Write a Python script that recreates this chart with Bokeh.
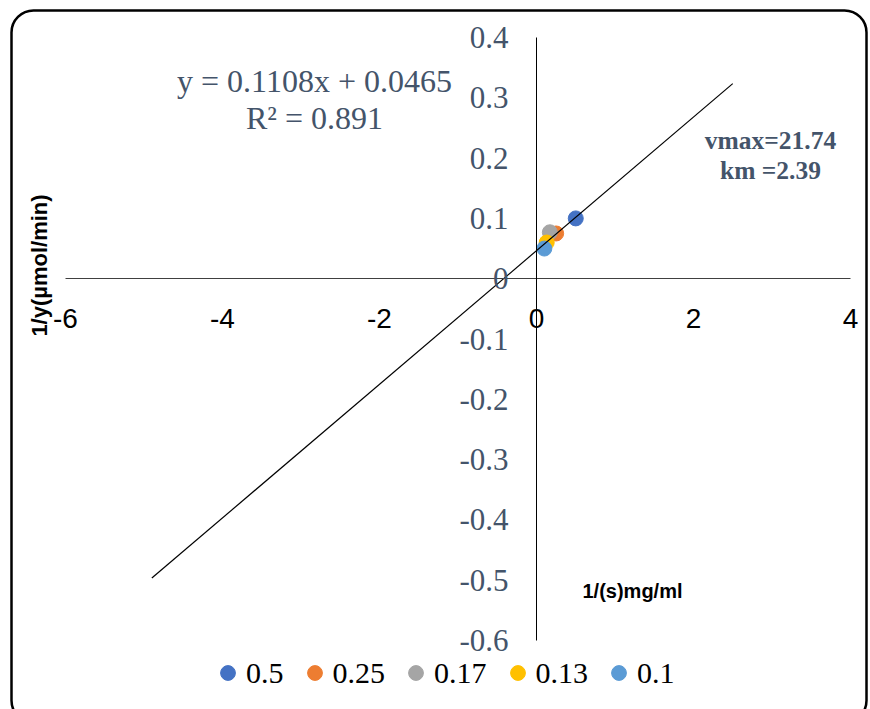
import math
from bokeh.plotting import figure
from bokeh.models import (Range1d, LinearAxis, FixedTicker, NumeralTickFormatter,
                          Label, Legend, LegendItem, BoxAnnotation)
from bokeh.embed import file_html
from bokeh.resources import INLINE

# ---- data ----
series_names = ["0.5", "0.25", "0.17", "0.13", "0.1"]
inv_s = [0.5, 0.25, 0.17, 0.13, 0.1]
inv_v = [0.100, 0.075, 0.077, 0.060, 0.050]
colors = ["#4472C4", "#ED7D31", "#A5A5A5", "#FFC000", "#5B9BD5"]
slope = 0.1108
intercept = 0.0465
r2 = 0.891
vmax = 21.74
km = 2.39
trend_x = [-4.9, 2.5]
x_ticks = [-6, -4, -2, 0, 2, 4]
y_ticks = [0.4, 0.3, 0.2, 0.1, 0, -0.1, -0.2, -0.3, -0.4, -0.5, -0.6]

# ---- layout helpers (pixel -> data) ----
W, H = 870, 709
OX, OY = 536.0, 278.2
SX, SY = 78.5, 603.0


def px_x(px):
    return (px - OX) / SX


def px_y(py):
    return (OY - py) / SY


p = figure(width=W, height=H,
           x_range=Range1d(px_x(0), px_x(W)), y_range=Range1d(px_y(H), px_y(0)),
           output_backend="svg", toolbar_location=None,
           x_axis_location=None, y_axis_location=None,
           min_border=0, outline_line_color=None,
           background_fill_color="white", border_fill_color="white")
p.grid.visible = False

xaxis = LinearAxis(fixed_location=0, bounds=(-6, 4),
                   ticker=FixedTicker(ticks=x_ticks),
                   formatter=NumeralTickFormatter(format="0"),
                   major_tick_line_color=None, minor_tick_line_color=None,
                   axis_line_color="#404040", axis_line_width=1,
                   major_label_text_font="Liberation Sans",
                   major_label_text_font_size="28px",
                   major_label_text_color="black",
                   major_label_standoff=24)
p.add_layout(xaxis, "below")

yaxis = LinearAxis(fixed_location=0, bounds=(-0.6, 0.4),
                   ticker=FixedTicker(ticks=y_ticks),
                   formatter=NumeralTickFormatter(format="0.[0]"),
                   major_tick_line_color=None, minor_tick_line_color=None,
                   axis_line_color="black", axis_line_width=1,
                   major_label_text_font="Liberation Serif",
                   major_label_text_font_size="31px",
                   major_label_text_color="#44546A",
                   major_label_standoff=22)
p.add_layout(yaxis, "left")

items = []
for name, xs, ys, c in zip(series_names, inv_s, inv_v, colors):
    r = p.scatter([xs], [ys], size=15, fill_color=c, line_color=c)
    items.append(LegendItem(label=name, renderers=[r]))

trend_y = [slope * x + intercept for x in trend_x]
p.line(trend_x, trend_y, line_color="black", line_width=1.2)

legend = Legend(items=items, orientation="horizontal", location=(209, 18),
                glyph_width=37, glyph_height=37, label_standoff=0, spacing=12,
                padding=0, margin=0, border_line_color=None,
                background_fill_alpha=0,
                label_text_font="Liberation Serif", label_text_font_size="30px",
                label_text_color="black")
p.add_layout(legend)

eq_style = dict(text_font="Liberation Serif", text_font_size="32px",
                text_color="#44546A", text_align="center", text_baseline="middle")
p.add_layout(Label(x=px_x(314), y=px_y(80),
                   text=f"y = {slope}x + {intercept}", **eq_style))
p.add_layout(Label(x=px_x(314), y=px_y(117), text=f"R² = {r2}", **eq_style))

kin_style = dict(text_font="Liberation Serif", text_font_size="25.5px",
                 text_font_style="bold", text_color="#44546A",
                 text_align="center", text_baseline="middle")
p.add_layout(Label(x=px_x(770), y=px_y(140), text=f"vmax={vmax}", **kin_style))
p.add_layout(Label(x=px_x(770), y=px_y(170), text=f"km ={km}", **kin_style))

p.add_layout(Label(x=px_x(39), y=px_y(265), text="1/y(µmol/min)", angle=math.pi / 2,
                   text_font="Liberation Sans", text_font_size="22px",
                   text_font_style="bold", text_color="black",
                   text_align="center", text_baseline="middle"))
p.add_layout(Label(x=px_x(582), y=px_y(590), text="1/(s)mg/ml",
                   text_font="Liberation Sans", text_font_size="20px",
                   text_font_style="bold", text_color="black",
                   text_align="left", text_baseline="middle"))

p.add_layout(BoxAnnotation(left=px_x(11), right=px_x(866), top=px_y(10), bottom=px_y(722),
                           fill_alpha=0, line_color="black", line_alpha=1,
                           line_width=2.5, border_radius=22))

open("out.html", "w").write(file_html(p, INLINE))
